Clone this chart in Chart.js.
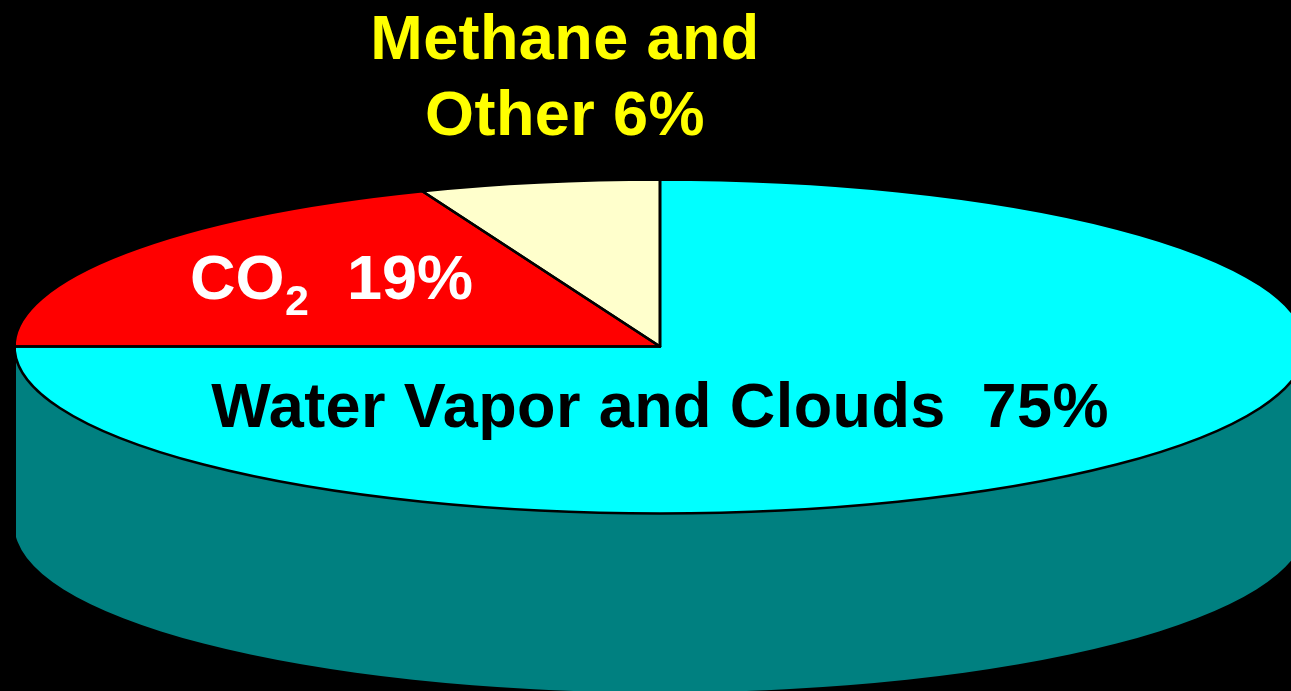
<!DOCTYPE html>
<html>
<head>
<meta charset="utf-8">
<style>html,body{margin:0;padding:0;background:#000;overflow:hidden}canvas{display:block}</style>
<script src="https://cdn.jsdelivr.net/npm/chart.js@4"></script>
</head>
<body>
<canvas id="c" width="1291" height="691"></canvas>
<script>
const categories = ['Water Vapor and Clouds', 'CO2', 'Methane and Other'];
const values = [75, 19, 6];
const sliceColors = ['#00FFFF', '#FF0000', '#FFFFCC'];
const wallColors = ['#008080', '#800000', '#808066'];

const VIEW = {cx: 660, cy: 346.5, rx: 645.5, ry: 167, depth: 179, clipLeft: 16};
const FONT = 'bold 63px "Liberation Sans", Arial, sans-serif';
const SUB_FONT = 'bold 43px "Liberation Sans", Arial, sans-serif';
const LABELS = [
  {text: 'Methane and', x: 565, y: 59, color: '#FFFF00', font: FONT, align: 'center', spacing: '0.4px'},
  {text: 'Other 6%', x: 565, y: 135, color: '#FFFF00', font: FONT, align: 'center', spacing: '0.4px'},
  {text: 'CO', x: 190, y: 299, color: '#FFFFFF', font: FONT, align: 'left', spacing: '0px'},
  {text: '2', x: 285, y: 315, color: '#FFFFFF', font: SUB_FONT, align: 'left', spacing: '0px'},
  {text: '19%', x: 347, y: 299, color: '#FFFFFF', font: FONT, align: 'left', spacing: '0px'},
  {text: 'Water Vapor and Clouds  75%', x: 660, y: 427, color: '#000000', font: FONT, align: 'center', spacing: '0.4px'}
];

function clipView(ctx, chart) {
  ctx.beginPath();
  ctx.rect(VIEW.clipLeft, 0, chart.width - VIEW.clipLeft, chart.height);
  ctx.clip();
}

const tiltedPie = {
  id: 'tiltedPie',
  beforeDatasetsDraw(chart) {
    const ctx = chart.ctx;
    const arcs = chart.getDatasetMeta(0).data;
    ctx.save();
    clipView(ctx, chart);
    arcs.forEach((el, i) => {
      const s = Math.max(el.startAngle, 0), e = Math.min(el.endAngle, Math.PI);
      if (e <= s) return;
      ctx.beginPath();
      ctx.ellipse(VIEW.cx, VIEW.cy, VIEW.rx, VIEW.ry, 0, s, e);
      ctx.ellipse(VIEW.cx, VIEW.cy + VIEW.depth, VIEW.rx, VIEW.ry, 0, e, s, true);
      ctx.closePath();
      ctx.fillStyle = wallColors[i];
      ctx.fill();
    });
    const a = arcs[0];
    const sx = VIEW.rx / a.outerRadius, sy = VIEW.ry / a.outerRadius;
    ctx.translate(VIEW.cx, VIEW.cy);
    ctx.scale(sx, sy);
    ctx.translate(-a.x, -a.y);
  },
  afterDatasetsDraw(chart) {
    const ctx = chart.ctx;
    const arcs = chart.getDatasetMeta(0).data;
    ctx.restore();
    ctx.save();
    clipView(ctx, chart);
    ctx.strokeStyle = '#000';
    ctx.lineWidth = 2.6;
    ctx.lineJoin = 'round';
    arcs.forEach(el => {
      ctx.beginPath();
      ctx.moveTo(VIEW.cx, VIEW.cy);
      ctx.ellipse(VIEW.cx, VIEW.cy, VIEW.rx, VIEW.ry, 0, el.startAngle, el.endAngle);
      ctx.closePath();
      ctx.stroke();
    });
    ctx.restore();
  },
  afterDraw(chart) {
    const ctx = chart.ctx;
    ctx.save();
    ctx.textBaseline = 'alphabetic';
    LABELS.forEach(l => {
      ctx.font = l.font;
      ctx.letterSpacing = l.spacing;
      ctx.fillStyle = l.color;
      ctx.textAlign = l.align;
      ctx.fillText(l.text, l.x, l.y);
    });
    ctx.restore();
  }
};

new Chart(document.getElementById('c'), {
  type: 'pie',
  data: {
    labels: categories,
    datasets: [{data: values, backgroundColor: sliceColors, borderWidth: 0, clip: false}]
  },
  options: {
    responsive: false,
    animation: false,
    layout: {padding: 0},
    plugins: {legend: {display: false}, tooltip: {enabled: false}, title: {display: false}}
  },
  plugins: [tiltedPie]
});
</script>
</body>
</html>
